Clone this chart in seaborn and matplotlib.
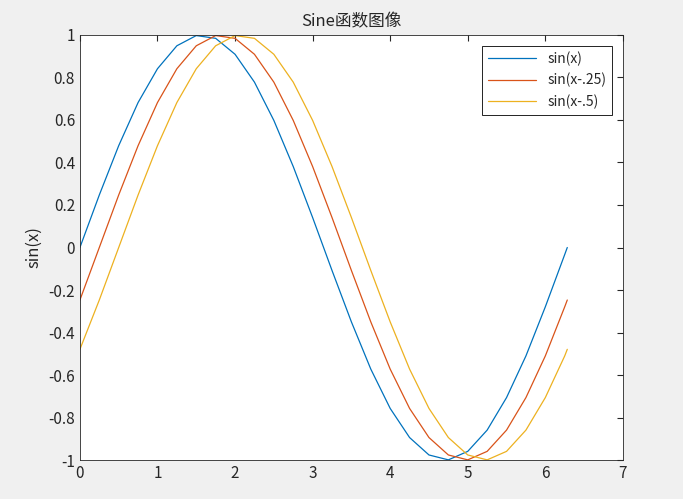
import matplotlib
matplotlib.use("Agg")
import matplotlib.pyplot as plt
import seaborn as sns
import pandas as pd

x = [0, .25, .5, .75, 1, 1.25, 1.5, 1.75, 2, 2.25, 2.5, 2.75, 3, 3.25, 3.5, 3.75, 4,
     4.25, 4.5, 4.75, 5, 5.25, 5.5, 5.75, 6, 6.25, 6.283]
y1 = [0, .247, .479, .682, .841, .949, .997, .984, .909, .778, .598, .381, .141, -.108,
      -.350, -.572, -.757, -.894, -.976, -.999, -.959, -.859, -.706, -.510, -.279, -.033, 0]
y2 = [-.247, 0, .247, .479, .682, .841, .949, .997, .984, .909, .778, .598, .381, .141,
      -.108, -.350, -.572, -.757, -.894, -.976, -.999, -.959, -.859, -.706, -.510, -.279, -.247]
y3 = [-.479, -.247, 0, .247, .479, .682, .841, .949, .997, .984, .909, .778, .598, .381,
      .141, -.108, -.350, -.572, -.757, -.894, -.976, -.999, -.959, -.859, -.706, -.510, -.479]
labels = ["sin(x)", "sin(x-.25)", "sin(x-.5)"]
colors = ["#0072BD", "#D95319", "#EDB120"]

sns.set_style("white")
plt.rcParams['font.family'] = ['Noto Sans CJK SC', 'DejaVu Sans']
plt.rcParams['xtick.direction'] = 'in'
plt.rcParams['ytick.direction'] = 'in'

fig = plt.figure(figsize=(6.83, 4.99), dpi=100, facecolor="#F0F0F0")
ax = fig.add_axes([0.117, 0.078, 0.795, 0.852])
df = pd.DataFrame({"x": x * 3, "y": y1 + y2 + y3,
                   "s": [l for l in labels for _ in x]})
sns.lineplot(data=df, x="x", y="y", hue="s", palette=colors, ax=ax, linewidth=0.9, sort=False)
ax.set_xlim(0, 7)
ax.set_ylim(-1, 1)
ax.set_xticks(range(0, 8))
ax.set_yticks([i / 10 for i in range(-10, 11, 2)])
ax.set_yticklabels(["-1", "-0.8", "-0.6", "-0.4", "-0.2", "0", "0.2", "0.4", "0.6", "0.8", "1"])
ax.tick_params(labelsize=11, length=4, top=True, right=True, colors="#262626")
for sp in ax.spines.values():
    sp.set_color("#262626"); sp.set_linewidth(0.6)
ax.set_xlabel("")
ax.set_ylabel("sin(x)", fontsize=12)
ax.set_title("Sine函数图像", fontsize=12)
leg = ax.legend(loc="upper right", fontsize=10, fancybox=False, edgecolor="black",
                framealpha=1, borderaxespad=0.8, handlelength=3.5)
leg.get_frame().set_linewidth(0.6)
fig.savefig("out.png", dpi=100, facecolor=fig.get_facecolor())
